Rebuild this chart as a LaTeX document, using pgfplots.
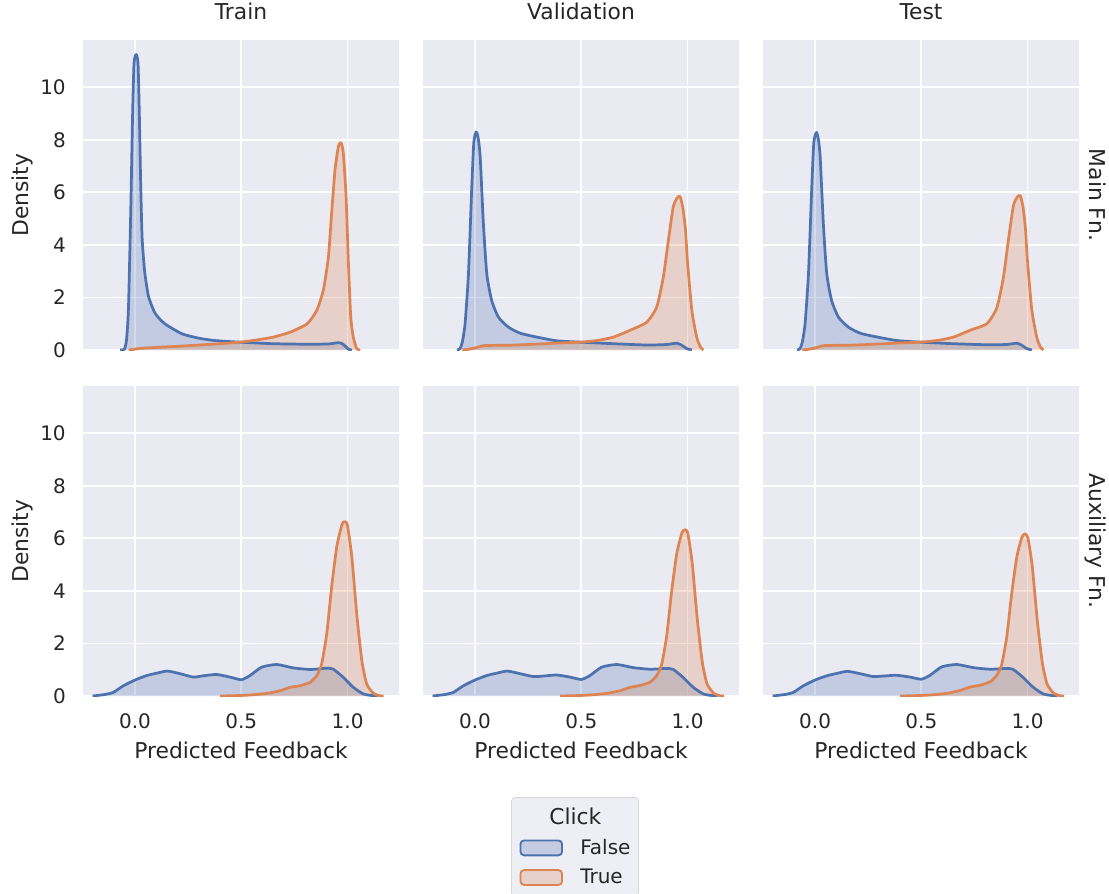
\documentclass[border=0pt]{standalone}
\usepackage{fontspec}
\setmainfont{DejaVu Sans}
\usepackage{pgfplots}
\usepackage{pgfplotstable}
\pgfplotsset{compat=1.18}
\definecolor{sbbg}{HTML}{EAEAF2}
\definecolor{sbblue}{HTML}{4C72B0}
\definecolor{sborange}{HTML}{DD8452}
\definecolor{sbtext}{HTML}{262626}
\definecolor{legbg}{HTML}{EEEEF5}
\definecolor{legedge}{HTML}{D6D6D6}

% ---------- Main Fn. ----------
\pgfplotstableread{
x y
-0.070 0
-0.050 0.03
-0.040 0.40
-0.031 1.60
-0.020 5.40
-0.012 8.80
-0.005 10.90
0.005 11.25
0.014 10.90
0.020 9.00
0.026 6.50
0.033 4.30
0.045 3.00
0.063 2.05
0.094 1.40
0.140 1.00
0.220 0.62
0.300 0.45
0.376 0.36
0.490 0.30
0.650 0.24
0.810 0.22
0.910 0.23
0.957 0.28
0.975 0.24
0.990 0.14
1.005 0.03
1.020 0
}\TrMainB
\pgfplotstableread{
x y
-0.030 0
-0.010 0.02
0.020 0.06
0.100 0.10
0.200 0.14
0.300 0.19
0.400 0.24
0.494 0.30
0.570 0.38
0.650 0.49
0.730 0.68
0.810 1.00
0.855 1.51
0.886 2.28
0.910 3.55
0.925 5.21
0.941 6.86
0.957 7.76
0.969 7.89
0.980 7.50
0.993 5.84
1.004 3.30
1.015 1.25
1.027 0.49
1.043 0.05
1.060 0
}\TrMainO
\pgfplotstableread{
x y
-0.085 0
-0.071 0.05
-0.060 0.30
-0.047 1.00
-0.031 2.91
-0.016 6.10
-0.006 7.90
0.005 8.30
0.014 8.10
0.024 7.37
0.039 4.83
0.055 2.91
0.078 1.89
0.110 1.25
0.157 0.87
0.220 0.62
0.376 0.36
0.494 0.30
0.651 0.24
0.808 0.19
0.902 0.21
0.949 0.26
0.971 0.19
0.995 0.06
1.020 0
}\VaMainB
\pgfplotstableread{
x y
-0.060 0
-0.030 0.03
0.000 0.08
0.047 0.17
0.150 0.18
0.250 0.21
0.376 0.26
0.494 0.30
0.573 0.36
0.651 0.49
0.729 0.75
0.808 1.06
0.855 1.64
0.886 2.78
0.910 4.19
0.933 5.46
0.952 5.80
0.965 5.84
0.978 5.40
0.990 4.60
0.999 3.42
1.020 1.51
1.043 0.49
1.060 0.12
1.074 0
}\VaMainO
\pgfplotstableread{
x y
-0.085 0
-0.071 0.05
-0.060 0.30
-0.047 1.00
-0.031 2.91
-0.016 6.10
-0.006 7.90
0.006 8.28
0.015 8.05
0.024 7.35
0.039 4.80
0.055 2.90
0.078 1.88
0.110 1.25
0.157 0.87
0.220 0.62
0.376 0.37
0.494 0.30
0.651 0.24
0.808 0.20
0.902 0.21
0.949 0.26
0.971 0.19
0.995 0.06
1.020 0
}\TeMainB
\pgfplotstableread{
x y
-0.060 0
-0.030 0.03
0.000 0.08
0.047 0.17
0.150 0.18
0.250 0.21
0.376 0.26
0.494 0.30
0.573 0.36
0.651 0.49
0.729 0.75
0.808 1.00
0.855 1.60
0.886 2.75
0.910 4.20
0.933 5.48
0.952 5.83
0.966 5.87
0.979 5.42
0.990 4.62
0.999 3.44
1.020 1.52
1.043 0.49
1.060 0.12
1.074 0
}\TeMainO
% ---------- Auxiliary Fn. ----------
\pgfplotstableread{
x y
-0.200 0
-0.180 0.02
-0.140 0.06
-0.102 0.14
-0.055 0.39
0.000 0.61
0.055 0.78
0.102 0.87
0.152 0.95
0.212 0.85
0.274 0.72
0.321 0.77
0.384 0.82
0.447 0.72
0.500 0.62
0.541 0.78
0.596 1.10
0.667 1.20
0.745 1.07
0.824 1.01
0.902 1.06
0.933 1.02
0.980 0.71
1.027 0.33
1.074 0.08
1.122 0.01
1.140 0
}\TrAuxB
\pgfplotstableread{
x y
0.400 0
0.525 0.03
0.620 0.10
0.682 0.20
0.729 0.33
0.776 0.39
0.824 0.52
0.855 0.78
0.878 1.22
0.902 2.37
0.925 4.15
0.949 5.68
0.973 6.51
0.985 6.64
0.999 6.51
1.020 5.30
1.043 3.13
1.067 1.35
1.090 0.46
1.122 0.10
1.151 0.01
1.170 0
}\TrAuxO
\pgfplotstableread{
x y
-0.200 0
-0.180 0.02
-0.140 0.06
-0.102 0.14
-0.055 0.39
0.000 0.61
0.055 0.78
0.102 0.87
0.152 0.95
0.212 0.85
0.274 0.74
0.321 0.76
0.384 0.80
0.447 0.72
0.500 0.63
0.541 0.78
0.596 1.10
0.667 1.20
0.745 1.08
0.824 1.02
0.902 1.05
0.933 1.01
0.980 0.70
1.027 0.33
1.074 0.08
1.122 0.01
1.140 0
}\VaAuxB
\pgfplotstableread{
x y
0.400 0
0.525 0.03
0.620 0.10
0.682 0.20
0.729 0.33
0.776 0.40
0.824 0.53
0.855 0.78
0.878 1.20
0.902 2.30
0.925 3.98
0.949 5.42
0.973 6.20
0.987 6.33
1.001 6.20
1.022 5.05
1.045 2.98
1.069 1.30
1.092 0.45
1.124 0.10
1.153 0.01
1.172 0
}\VaAuxO
\pgfplotstableread{
x y
-0.200 0
-0.180 0.02
-0.140 0.06
-0.102 0.14
-0.055 0.39
0.000 0.61
0.055 0.77
0.102 0.86
0.152 0.94
0.212 0.85
0.274 0.74
0.321 0.76
0.384 0.79
0.447 0.72
0.500 0.64
0.541 0.79
0.596 1.11
0.667 1.20
0.745 1.08
0.824 1.02
0.902 1.05
0.933 1.01
0.980 0.70
1.027 0.33
1.074 0.08
1.122 0.01
1.140 0
}\TeAuxB
\pgfplotstableread{
x y
0.400 0
0.525 0.03
0.620 0.10
0.682 0.21
0.729 0.34
0.776 0.41
0.824 0.54
0.855 0.79
0.878 1.19
0.902 2.25
0.925 3.88
0.949 5.28
0.973 6.04
0.987 6.17
1.001 6.04
1.022 4.95
1.045 2.93
1.069 1.28
1.092 0.45
1.124 0.10
1.153 0.01
1.172 0
}\TeAuxO

\pgfplotsset{
  sbaxis/.style={
    width=173.8pt, height=170.5pt, scale only axis,
    xmin=-0.245, xmax=1.242, ymin=0, ymax=11.8,
    axis background/.style={fill=sbbg},
    axis line style={draw=none},
    major tick length=0pt,
    grid=major, major grid style={white, line width=1pt},
    xtick={0,0.5,1}, ytick={0,2,4,6,8,10},
    xticklabels={0.0,0.5,1.0},
    yticklabels={0,2,4,6,8,10},
    tick label style={font=\fontsize{11}{13}\selectfont, text=sbtext, inner sep=0pt},
    xticklabel style={yshift=-9.3pt},
    yticklabel style={xshift=-9.3pt},
    label style={font=\fontsize{12}{14}\selectfont, text=sbtext},
    xlabel style={at={(axis description cs:0.5,-0.1484)}, anchor=north, inner sep=0pt},
    ylabel style={at={(axis description cs:-0.1554,0.5)}, anchor=south, rotate=0, inner sep=0pt},
    title style={at={(axis description cs:0.5,1.032)}, anchor=base, inner sep=0pt, font=\fontsize{12}{14}\selectfont, text=sbtext},
  },
  nox/.style={xticklabels={,,}},
  noy/.style={yticklabels={,,,,,}},
  rowlabel/.style={extra description/.code={
    \node[rotate=-90, anchor=base, inner sep=0pt, font=\fontsize{12}{14}\selectfont, text=sbtext]
      at (axis description cs:1.032,0.5) {#1};}},
  kdefill/.style={draw=none, fill=#1, fill opacity=0.25, smooth, tension=0.35, forget plot},
  kdeline/.style={draw=#1, line width=1.5pt, smooth, tension=0.35, forget plot, line join=round},
}

\begin{document}
\begin{tikzpicture}
% ---------------- row 1 ----------------
\begin{axis}[sbaxis, at={(45.65pt,-22pt)}, anchor=north west,
  title={Train}, ylabel={Density}, nox]
\addplot[kdefill=sbblue] table {\TrMainB} \closedcycle;
\addplot[kdefill=sborange] table {\TrMainO} \closedcycle;
\addplot[kdeline=sbblue] table {\TrMainB};
\addplot[kdeline=sborange] table {\TrMainO};
\end{axis}
\begin{axis}[sbaxis, at={(232.65pt,-22pt)}, anchor=north west,
  title={Validation}, nox, noy]
\addplot[kdefill=sbblue] table {\VaMainB} \closedcycle;
\addplot[kdefill=sborange] table {\VaMainO} \closedcycle;
\addplot[kdeline=sbblue] table {\VaMainB};
\addplot[kdeline=sborange] table {\VaMainO};
\end{axis}
\begin{axis}[sbaxis, at={(419.65pt,-22pt)}, anchor=north west,
  title={Test}, nox, noy, rowlabel={Main Fn.}]
\addplot[kdefill=sbblue] table {\TeMainB} \closedcycle;
\addplot[kdefill=sborange] table {\TeMainO} \closedcycle;
\addplot[kdeline=sbblue] table {\TeMainB};
\addplot[kdeline=sborange] table {\TeMainO};
\end{axis}
% ---------------- row 2 ----------------
\begin{axis}[sbaxis, at={(45.65pt,-212.3pt)}, anchor=north west,
  ylabel={Density}, xlabel={Predicted Feedback}]
\addplot[kdefill=sbblue] table {\TrAuxB} \closedcycle;
\addplot[kdefill=sborange] table {\TrAuxO} \closedcycle;
\addplot[kdeline=sbblue] table {\TrAuxB};
\addplot[kdeline=sborange] table {\TrAuxO};
\end{axis}
\begin{axis}[sbaxis, at={(232.65pt,-212.3pt)}, anchor=north west,
  xlabel={Predicted Feedback}, noy,
  legend cell align=left,
  legend style={at={(0.481,-0.326)}, anchor=north, draw=legedge, fill=legbg,
    rounded corners=2pt, inner xsep=4.4pt, inner ysep=5.6pt,
    row sep=6.6pt, column sep=9.5pt,
    nodes={inner sep=0pt, text=sbtext},
    font=\fontsize{11}{13}\selectfont}]
\addplot[kdefill=sbblue] table {\VaAuxB} \closedcycle;
\addplot[kdefill=sborange] table {\VaAuxO} \closedcycle;
\addplot[kdeline=sbblue] table {\VaAuxB};
\addplot[kdeline=sborange] table {\VaAuxO};
\addlegendimage{empty legend}
\addlegendentry{\hspace*{-17pt}\fontsize{12}{14}\selectfont Click}
\addlegendimage{legend image code/.code={\draw[draw=sbblue, fill=sbblue!25!sbbg, line width=1pt] (0pt,-4.1pt) rectangle (22.9pt,4.1pt);}}
\addlegendentry{False}
\addlegendimage{legend image code/.code={\draw[draw=sborange, fill=sborange!25!sbbg, line width=1pt] (0pt,-4.1pt) rectangle (22.9pt,4.1pt);}}
\addlegendentry{True}
\end{axis}
\begin{axis}[sbaxis, at={(419.65pt,-212.3pt)}, anchor=north west,
  xlabel={Predicted Feedback}, noy, rowlabel={Auxiliary Fn.}]
\addplot[kdefill=sbblue] table {\TeAuxB} \closedcycle;
\addplot[kdefill=sborange] table {\TeAuxO} \closedcycle;
\addplot[kdeline=sbblue] table {\TeAuxB};
\addplot[kdeline=sborange] table {\TeAuxO};
\end{axis}
\pgfresetboundingbox
\useasboundingbox (0pt,0pt) rectangle (609.95pt,-491.15pt);
\end{tikzpicture}
\end{document}
